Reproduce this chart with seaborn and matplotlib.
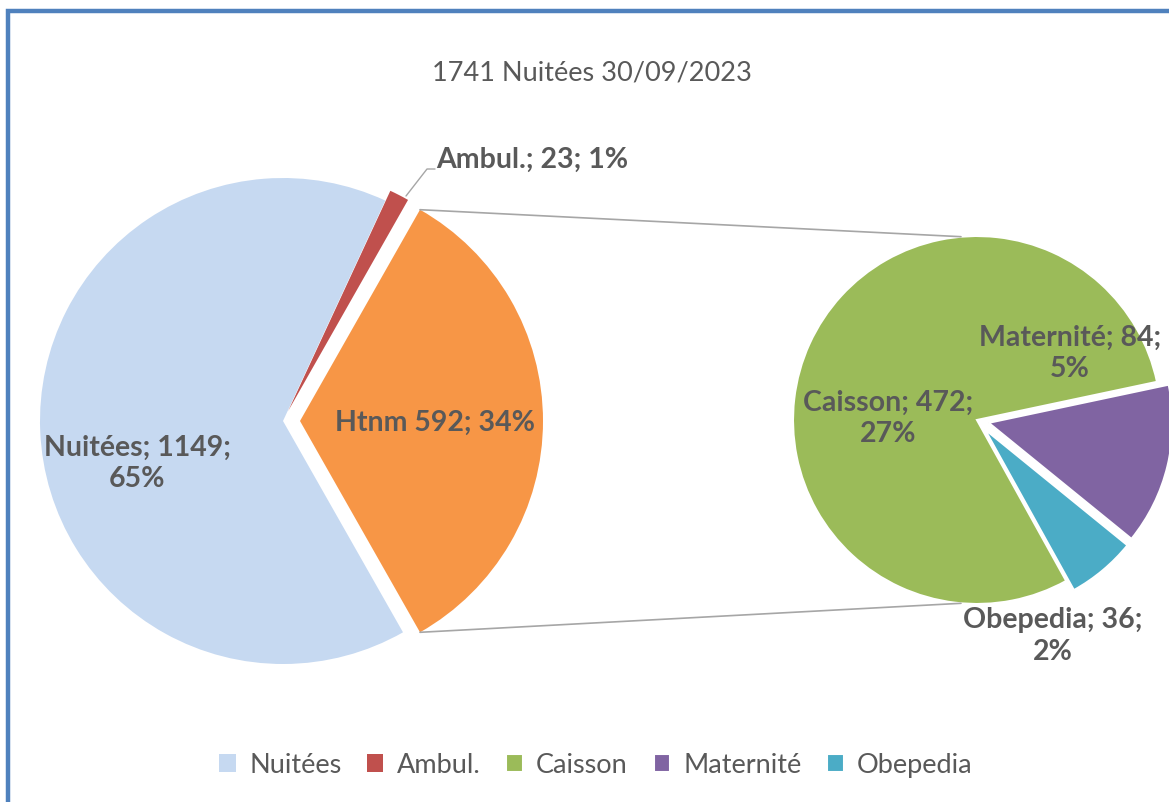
import numpy as np
import matplotlib
matplotlib.use("Agg")
import matplotlib.pyplot as plt
from matplotlib.patches import Rectangle
import seaborn as sns

# data
title = "1741 Nuitées 30/09/2023"
main_labels = ["Htnm", "Ambul.", "Nuitées"]
main_values = [592, 23, 1149]
main_colors = ["#F79646", "#C0504D", "#C6D9F1"]

sub_labels = ["Obepedia", "Maternité", "Caisson"]
sub_values = [36, 84, 472]
sub_colors = ["#4BACC6", "#8064A2", "#9BBB59"]

legend_order = ["Nuitées", "Ambul.", "Caisson", "Maternité", "Obepedia"]

W, H = 1169, 803
GRAY = "#595959"

sns.set_theme(style="white")
plt.rcParams["font.family"] = ["Lato", "DejaVu Sans"]

fig = plt.figure(figsize=(W / 100, H / 100), dpi=100)
ax = fig.add_axes([0, 0, 1, 1])


def fy(y):
    # image y (top down) -> axes y (bottom up)
    return H - y


total = sum(main_values)
pct = lambda v: f"{round(100 * v / total):.0f}%"

# left pie, the "other" slice (Htnm) centred on the right
# (explode is in data units here, i.e. pixels)
start_main = -180 * main_values[0] / total
left_c, left_r = (283, fy(422)), 243
wl, _ = ax.pie(main_values, colors=main_colors, startangle=start_main,
               counterclock=True, explode=[17, 11, 0],
               center=left_c, radius=left_r, wedgeprops=dict(linewidth=0))

# right pie, split of Htnm
right_c, right_r = (977, fy(421)), 184
wr, _ = ax.pie(sub_values, colors=sub_colors, startangle=-61,
               counterclock=True, explode=[12, 12, 0],
               center=right_c, radius=right_r,
               wedgeprops=dict(linewidth=1.5, edgecolor="white"))

ax.set_xlim(0, W)
ax.set_ylim(0, H)
ax.set_aspect("equal")
ax.axis("off")

# connector lines between the two pies
htnm = wl[0]
for ang_l, ang_r in [(htnm.theta2, 95), (htnm.theta1, 265)]:
    cx, cy = htnm.center
    x0 = cx + htnm.r * np.cos(np.radians(ang_l))
    y0 = cy + htnm.r * np.sin(np.radians(ang_l))
    x1 = right_c[0] + right_r * np.cos(np.radians(ang_r))
    y1 = right_c[1] + right_r * np.sin(np.radians(ang_r))
    ax.plot([x0, x1], [y0, y1], color="#A6A6A6", lw=1.2)

# data labels
lab_kw = dict(color=GRAY, fontsize=20.5, fontweight="bold", ha="center",
              va="center", linespacing=1.25)
ax.text(137, fy(463), f"{main_labels[2]}; {main_values[2]};\n{pct(main_values[2])}", **lab_kw)
ax.text(435, fy(423), f"{main_labels[0]} {main_values[0]}; {pct(main_values[0])}", **lab_kw)
ax.text(436, fy(160), f"{main_labels[1]}; {main_values[1]}; {pct(main_values[1])}",
        **{**lab_kw, "ha": "left"})
ax.plot([406, 427, 435], [fy(197), fy(170), fy(170)], color="#A6A6A6", lw=1)

ax.text(888, fy(418), f"{sub_labels[2]}; {sub_values[2]};\n{pct(sub_values[2])}", **lab_kw)
ax.text(1070, fy(353), f"{sub_labels[1]}; {sub_values[1]};\n{pct(sub_values[1])}", **lab_kw)
ax.text(1053, fy(636), f"{sub_labels[0]}; {sub_values[0]};\n{pct(sub_values[0])}", **lab_kw)

# title
ax.text(592, fy(73), title, color=GRAY, fontsize=19.5, ha="center", va="center")

# legend
handles = dict(zip(main_labels + sub_labels, list(wl) + list(wr)))
fig.legend([handles[k] for k in legend_order], legend_order, loc="center",
           bbox_to_anchor=(596 / W, 1 - 766 / H), ncol=5, frameon=False,
           fontsize=19.5, labelcolor=GRAY, handlelength=0.6, handleheight=0.6,
           handletextpad=0.5, columnspacing=0.95)

# chart border (cropped on the right and bottom)
fig.patches.append(Rectangle((7.5 / W, -0.1), 1.2, 1 - 11.5 / H + 0.1,
                             transform=fig.transFigure, fill=False,
                             edgecolor="#4F81BD", lw=3.2))

fig.savefig("out.png", dpi=100, facecolor="white")
